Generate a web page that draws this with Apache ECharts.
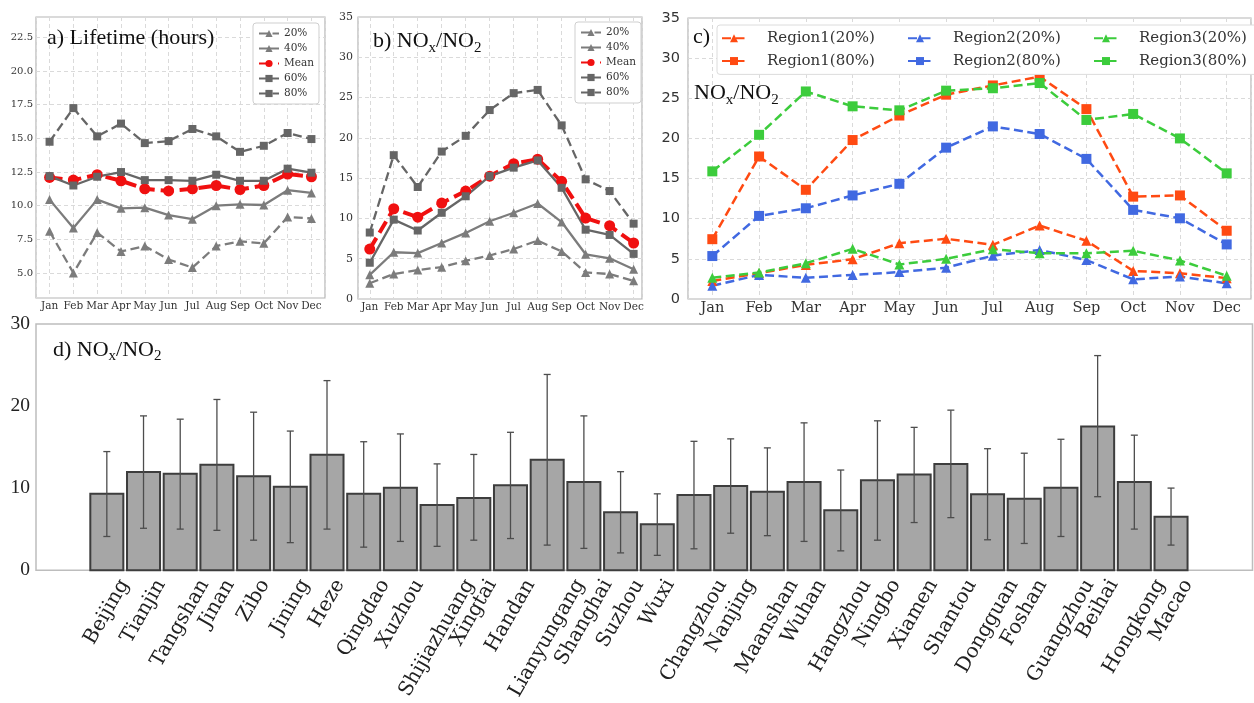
<!DOCTYPE html>
<html><head><meta charset="utf-8">
<script src="https://cdn.jsdelivr.net/npm/echarts@6.0.0/dist/echarts.min.js"></script>
<style>html,body{margin:0;padding:0;background:#fff}#c{width:1254px;height:703px}</style>
</head><body><div id="c"></div>
<script>
// ---------- data ----------
const months = ['Jan','Feb','Mar','Apr','May','Jun','Jul','Aug','Sep','Oct','Nov','Dec'];
const pctNames = ['20%','40%','Mean','60%','80%'];
// a) Lifetime (hours)
const a20   = [8.1, 5.0, 8.0, 6.6, 7.0, 6.0, 5.4, 7.0, 7.35, 7.2, 9.15, 9.05];
const a40   = [10.45, 8.35, 10.45, 9.8, 9.85, 9.3, 9.0, 10.0, 10.1, 10.05, 11.15, 10.95];
const aMean = [12.1, 11.9, 12.3, 11.85, 11.25, 11.1, 11.25, 11.5, 11.2, 11.5, 12.35, 12.15];
const a60   = [12.2, 11.5, 12.15, 12.5, 11.9, 11.9, 11.85, 12.3, 11.85, 11.85, 12.75, 12.45];
const a80   = [14.75, 17.25, 15.15, 16.1, 14.65, 14.8, 15.7, 15.15, 14.0, 14.45, 15.4, 14.95];
// b) NOx/NO2
const b20   = [1.95, 3.1, 3.6, 3.95, 4.75, 5.4, 6.2, 7.25, 5.9, 3.3, 3.1, 2.25];
const b40   = [3.0, 5.8, 5.7, 6.95, 8.2, 9.65, 10.7, 11.85, 9.55, 5.55, 5.05, 3.7];
const bMean = [6.2, 11.2, 10.15, 11.9, 13.4, 15.25, 16.8, 17.35, 14.6, 10.05, 9.1, 6.95];
const b60   = [4.5, 9.85, 8.5, 10.7, 12.75, 15.25, 16.3, 17.2, 13.8, 8.6, 7.95, 5.6];
const b80   = [8.25, 17.85, 13.9, 18.3, 20.25, 23.45, 25.55, 25.95, 21.55, 14.85, 13.4, 9.35];
// c) regions
const regionNames = ['Region1(20%)','Region1(80%)','Region2(20%)','Region2(80%)','Region3(20%)','Region3(80%)'];
const r1p20 = [2.25, 3.2, 4.25, 4.95, 6.95, 7.5, 6.75, 9.15, 7.25, 3.5, 3.2, 2.6];
const r1p80 = [7.45, 17.75, 13.6, 19.8, 22.85, 25.45, 26.6, 27.7, 23.65, 12.75, 12.9, 8.5];
const r2p20 = [1.65, 3.0, 2.65, 3.0, 3.35, 3.9, 5.4, 6.1, 4.85, 2.45, 2.8, 1.95];
const r2p80 = [5.35, 10.35, 11.3, 12.9, 14.35, 18.85, 21.5, 20.55, 17.45, 11.1, 10.05, 6.8];
const r3p20 = [2.65, 3.3, 4.45, 6.25, 4.3, 5.0, 6.2, 5.7, 5.7, 6.0, 4.8, 2.9];
const r3p80 = [15.9, 20.45, 25.85, 24.0, 23.5, 25.95, 26.25, 26.9, 22.3, 23.05, 20.0, 15.65];
// d) cities
const cities = ['Beijing','Tianjin','Tangshan','Jinan','Zibo','Jining','Heze','Qingdao','Xuzhou','Shijiazhuang',
  'Xingtai','Handan','Lianyungang','Shanghai','Suzhou','Wuxi','Changzhou','Nanjing','Maanshan','Wuhan',
  'Hangzhou','Ningbo','Xiamen','Shantou','Dongguan','Foshan','Guangzhou','Beihai','Hongkong','Macao'];
const dMean = [9.3, 11.95, 11.75, 12.85, 11.45, 10.15, 14.05, 9.3, 10.05, 7.95,
  8.8, 10.35, 13.45, 10.75, 7.05, 5.6, 9.15, 10.25, 9.55, 10.75,
  7.3, 10.95, 11.65, 12.95, 9.25, 8.7, 10.05, 17.5, 10.75, 6.5];
const dLow = [4.1, 5.1, 5.0, 4.85, 3.65, 3.35, 5.0, 2.8, 3.5, 2.9,
  3.65, 3.85, 3.05, 2.65, 2.1, 1.8, 2.6, 4.5, 4.2, 3.5,
  2.35, 3.65, 5.8, 6.4, 3.7, 3.25, 4.1, 8.95, 5.0, 3.05];
const dHigh = [14.45, 18.8, 18.4, 20.8, 19.25, 16.95, 23.1, 15.65, 16.6, 12.95,
  14.1, 16.8, 23.85, 18.8, 12.0, 9.3, 15.7, 16.0, 14.9, 17.95,
  12.2, 18.2, 17.4, 19.5, 14.8, 14.25, 15.95, 26.15, 16.45, 10.0];

// ---------- style helpers ----------
const SERIF = '"DejaVu Serif", serif';
const TSERIF = '"Liberation Serif", "Times New Roman", serif';
const SANS = '"DejaVu Sans", sans-serif';
const gridLine = {show: true, lineStyle: {color: '#dadada', type: [4, 3], width: 1}};
const pair = arr => arr.map((v, i) => [i, v]);
const isInt = v => Math.abs(v - Math.round(v)) < 1e-6;

function monthAxis(gi, min, max, fs, family, margin) {
  return {type: 'value', gridIndex: gi, min, max, minInterval: 1, maxInterval: 1,
    axisLine: {show: false}, axisTick: {show: false}, splitLine: gridLine,
    axisLabel: {margin, fontFamily: family, fontSize: fs, color: '#333',
      formatter: v => (isInt(v) && v >= 0 && v <= 11) ? months[Math.round(v)] : ''}};
}
function line(name, data, gi, color, dashed, symbol, size, width) {
  return {type: 'line', name, data: pair(data), xAxisIndex: gi, yAxisIndex: gi,
    symbol, symbolSize: size, showAllSymbol: true,
    lineStyle: {color, width, type: dashed ? (width > 3 ? [13, 6] : [9, 4.5]) : 'solid'},
    itemStyle: {color}, emphasis: {disabled: true}, animation: false};
}
const G1 = '#7c7c7c', G2 = '#666666', RED = '#f01010';
function pctSeries(gi, d20, d40, dm, d60, d80) {
  return [
    line('20%', d20, gi, G1, true, 'triangle', 9, 2.3),
    line('40%', d40, gi, G1, false, 'triangle', 9, 2.3),
    line('Mean', dm, gi, RED, true, 'circle', 11, 4),
    line('60%', d60, gi, G2, false, 'rect', 8, 2.3),
    line('80%', d80, gi, G2, true, 'rect', 8, 2.3)
  ];
}
const ORANGE = '#ff4a12', BLUE = '#4169e1', GREEN = '#3ccc3c';

// measure text for rotated city labels (centre-anchored like matplotlib)
const mctx = document.createElement('canvas').getContext('2d');
const CITY_FS = 20;
mctx.font = CITY_FS + 'px "DejaVu Serif"';
const cityRich = {};
cities.forEach((c, i) => {
  const w = mctx.measureText(c).width;
  const q = 11 + 0.433 * w;
  cityRich['c' + i] = {fontFamily: SERIF, fontSize: CITY_FS, color: '#222', padding: [q, 1.732 * q, 0, 0]};
});
mctx.font = '15px "DejaVu Serif"';
const legW = mctx.measureText('Region1(20%)').width;

// title rich text: equal token heights, subscript pushed down with top padding
const titleRich = {
  n: {fontFamily: TSERIF, fontSize: 22, lineHeight: 32, color: '#111'},
  s: {fontFamily: TSERIF, fontSize: 15, lineHeight: 19, padding: [13, 0, 0, 0], color: '#111'}
};
function title(text, left, top) {
  return {text, left, top, padding: 0, textStyle: {rich: titleRich, fontWeight: 'normal'}};
}
const smallLegend = (left, top) => ({
  data: pctNames, orient: 'vertical', left, top, itemWidth: 20, itemHeight: 9, itemGap: 0,
  padding: [3, 5, 3, 5], backgroundColor: '#fff', borderColor: '#cfcfcf', borderWidth: 1, borderRadius: 3,
  selectedMode: false, textStyle: {fontFamily: SERIF, fontSize: 10.5, color: '#333', lineHeight: 15}
});

const option = {
  animation: false,
  backgroundColor: '#fff',
  title: [
    title('{n|a) Lifetime (hours)}', 47, 22),
    title('{n|b) NO}{s|x}{n|/NO}{s|2}', 373, 25.5),
    title('{n|c)}', 693, 21),
    title('{n|NO}{s|x}{n|/NO}{s|2}', 694, 77.5),
    title('{n|d) NO}{s|x}{n|/NO}{s|2}', 53, 334)
  ],
  legend: [
    smallLegend(253, 23),
    smallLegend(575, 22),
    {data: ['Region1(20%)','Region2(20%)','Region3(20%)','Region1(80%)','Region2(80%)','Region3(80%)'],
     left: 717, top: 25, width: 580, itemWidth: 24, itemHeight: 10, itemGap: 0,
     padding: [2, 4, 2, 4], backgroundColor: '#fff', borderColor: '#dcdcdc', borderWidth: 1, borderRadius: 3,
     selectedMode: false,
     textStyle: {fontFamily: SERIF, fontSize: 15, color: '#333', lineHeight: 22.7,
       padding: [0, Math.max(0, 185 - 24 - 5 - 16 - legW), 0, 16]}}
  ],
  grid: [
    {left: 36, top: 17, width: 289, bottom: 405, show: true, borderColor: '#b5b5b5', borderWidth: 1.2, backgroundColor: '#fff'},
    {left: 358, top: 17, width: 284, bottom: 404, show: true, borderColor: '#b5b5b5', borderWidth: 1.2, backgroundColor: '#fff'},
    {left: 688, top: 18, right: -9, bottom: 404, show: true, borderColor: '#b5b5b5', borderWidth: 1.2, backgroundColor: '#fff'},
    {left: 36, top: 324, right: -20, bottom: 131.3, show: true, borderColor: '#bdbdbd', borderWidth: 1.5, backgroundColor: '#fff'}
  ],
  xAxis: [
    monthAxis(0, -0.57, 11.57, 10.5, SERIF, 3),
    monthAxis(1, -0.49, 11.35, 10.5, SERIF, 3),
    monthAxis(2, -0.52, 11.52, 14.5, SERIF, 2),
    {type: 'value', gridIndex: 3, min: -1.93, max: 31.22, minInterval: 1, maxInterval: 1,
     axisLine: {show: false}, axisTick: {show: false}, splitLine: {show: false},
     axisLabel: {rotate: 60, align: 'center', verticalAlign: 'middle', margin: 0, rich: cityRich,
       formatter: v => (isInt(v) && v >= 0 && v < cities.length) ? '{c' + Math.round(v) + '|' + cities[Math.round(v)] + '}' : ''}}
  ],
  yAxis: [
    {type: 'value', gridIndex: 0, min: 3.14, max: 24.02, minInterval: 2.5, maxInterval: 2.5,
     axisLine: {show: false}, axisTick: {show: false}, splitLine: gridLine,
     axisLabel: {margin: 3, fontFamily: SERIF, fontSize: 10, color: '#333',
       formatter: v => (v > 4.9 && isInt(v / 2.5)) ? v.toFixed(1) : ''}},
    {type: 'value', gridIndex: 1, min: 0, max: 35, interval: 5,
     axisLine: {show: false}, axisTick: {show: false}, splitLine: gridLine,
     axisLabel: {margin: 5, fontFamily: SERIF, fontSize: 11, color: '#333'}},
    {type: 'value', gridIndex: 2, min: 0, max: 35, interval: 5,
     axisLine: {show: false}, axisTick: {show: false}, splitLine: gridLine,
     axisLabel: {margin: 8, fontFamily: SANS, fontSize: 14.5, color: '#333'}},
    {type: 'value', gridIndex: 3, min: 0, max: 30, interval: 10,
     axisLine: {show: false}, axisTick: {show: false}, splitLine: {show: false},
     axisLabel: {margin: 6, fontFamily: TSERIF, fontSize: 19.5, color: '#222'}}
  ],
  series: [
    ...pctSeries(0, a20, a40, aMean, a60, a80),
    ...pctSeries(1, b20, b40, bMean, b60, b80),
    line('Region1(20%)', r1p20, 2, ORANGE, true, 'triangle', 10, 2.5),
    line('Region1(80%)', r1p80, 2, ORANGE, true, 'rect', 10, 2.5),
    line('Region2(20%)', r2p20, 2, BLUE, true, 'triangle', 10, 2.5),
    line('Region2(80%)', r2p80, 2, BLUE, true, 'rect', 10, 2.5),
    line('Region3(20%)', r3p20, 2, GREEN, true, 'triangle', 10, 2.5),
    line('Region3(80%)', r3p80, 2, GREEN, true, 'rect', 10, 2.5),
    {type: 'custom', name: 'bars', xAxisIndex: 3, yAxisIndex: 3, data: pair(dMean),
     encode: {x: 0, y: 1}, animation: false,
     renderItem: (params, api) => {
       const x = api.value(0), v = api.value(1);
       const p0 = api.coord([x - 0.45, v]);
       const p1 = api.coord([x + 0.45, 0]);
       return {type: 'rect', shape: {x: p0[0], y: p0[1], width: p1[0] - p0[0], height: p1[1] - p0[1]},
         style: {fill: '#a6a6a6', stroke: '#3d3d3d', lineWidth: 2}};
     }},
    {type: 'custom', name: 'err', xAxisIndex: 3, yAxisIndex: 3,
     data: cities.map((c, i) => [i, dLow[i], dHigh[i]]),
     encode: {x: 0, y: [1, 2]}, animation: false, z: 3,
     renderItem: (params, api) => {
       const x = api.value(0);
       const lo = api.coord([x, api.value(1)]);
       const hi = api.coord([x, api.value(2)]);
       const st = {stroke: '#4d4d4d', lineWidth: 1.3};
       return {type: 'group', children: [
         {type: 'line', shape: {x1: lo[0], y1: lo[1], x2: hi[0], y2: hi[1]}, style: st},
         {type: 'line', shape: {x1: lo[0] - 3.5, y1: lo[1], x2: lo[0] + 3.5, y2: lo[1]}, style: st},
         {type: 'line', shape: {x1: hi[0] - 3.5, y1: hi[1], x2: hi[0] + 3.5, y2: hi[1]}, style: st}
       ]};
     }}
  ]
};
const chart = echarts.init(document.getElementById('c'), null, {renderer: 'canvas'});
chart.setOption(option);
</script>
</body></html>
